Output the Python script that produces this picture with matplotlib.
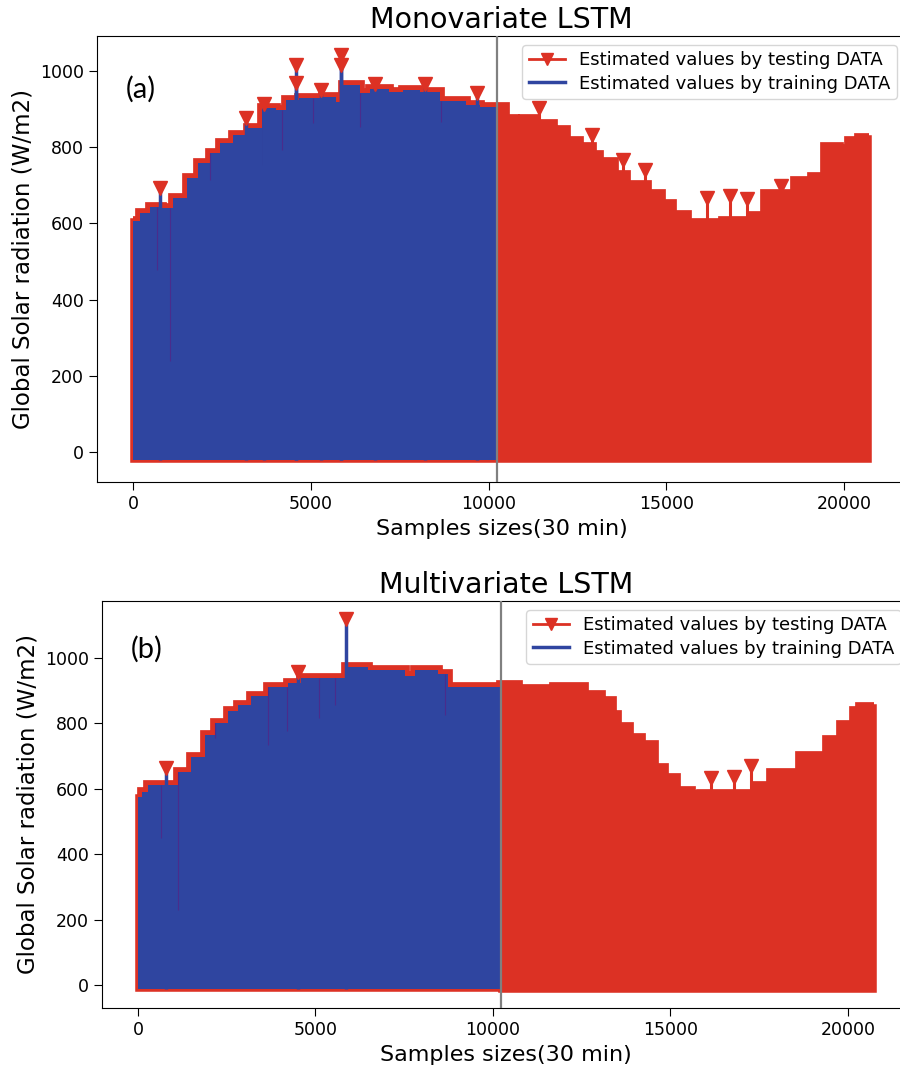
import numpy as np
import matplotlib
matplotlib.use("Agg")
import matplotlib.pyplot as plt
from matplotlib.lines import Line2D

# colours
RED = '#DC3124'
BLUE = '#2F45A0'
DIP = '#4A2C8C'

# ---- (a) Monovariate LSTM : daily peak envelope (segment start, value) ----
split_a = 10240
train_x_a = [0, 197, 478, 807, 1135, 1510, 1838, 2166, 2447, 2823, 3220, 3635, 4010,
             4290, 4670, 5330, 5720, 5910, 6380, 6660, 7200, 7600, 8070, 8630, 9380, 9750]
train_y_a = [605, 627, 644, 640, 666, 719, 758, 784, 810, 832, 850, 902, 898,
             924, 929, 933, 918, 963, 942, 952, 945, 950, 945, 920, 912, 906]
test_x_a = [10240, 10460, 10740, 10980, 11300, 11800, 12170, 12550, 12920, 13110, 13530,
            13880, 14460, 14840, 15170, 15590, 16600, 17420, 17790, 18630, 19100, 19470,
            19850, 20130, 20410]
test_y_a = [905, 873, 860, 873, 860, 846, 816, 800, 780, 760, 728,
            702, 676, 650, 623, 602, 606, 619, 676, 710, 723, 800,
            795, 816, 825]
end_a = 20700
floor_train_a = -22
floor_test_a = -22

spike_train_x_a = [760, 3180, 3690, 4576, 4576, 5300, 5850, 5850, 6800, 8210, 9680]
spike_train_y_a = [692, 877, 914, 1016, 968, 950, 1042, 1016, 965, 965, 941]
spike_test_x_a = [11430, 12900, 13775, 14400, 16140, 16790, 17260, 18220]
spike_test_y_a = [903, 832, 766, 740, 667, 672, 664, 698]
dip_x_a = [666, 1041, 2166, 3666, 4180, 5070, 6385, 8664]
dip_y_a = [478, 240, 714, 752, 792, 863, 854, 867]
drop_x_a, drop_y_a = 5850, 591

# ---- (b) Multivariate LSTM ----
split_b = 10225
train_x_b = [0, 104, 290, 1130, 1500, 1880, 2160, 2540, 2820, 3190, 3660, 4230,
             4600, 5870, 6480, 7520, 7800, 8460, 8740]
train_y_b = [576, 591, 612, 652, 698, 765, 800, 836, 856, 882, 912, 923,
             938, 973, 963, 945, 963, 950, 912]
test_x_b = [10225, 10700, 11730, 12570, 13040, 13360, 13500, 13830, 14160, 14530,
            14820, 15150, 15570, 15850, 17440, 17820, 18660, 19410, 19790, 20160, 20350]
test_y_b = [916, 905, 910, 887, 867, 826, 790, 755, 734, 663,
            633, 593, 581, 585, 607, 648, 699, 750, 795, 836, 851]
end_b = 20730
floor_train_b = -12
floor_test_b = -16

spike_train_x_b = [789, 4507, 5850]
spike_train_y_b = [664, 958, 1119]
spike_test_x_b = [16130, 16780, 17270]
spike_test_y_b = [632, 636, 668]
dip_x_b = [650, 1130, 2169, 3671, 4188, 5108, 5549, 8648]
dip_y_b = [450, 230, 755, 734, 775, 816, 857, 826]
drop_x_b, drop_y_b = 5850, 556


def step_arrays(xs, ys, x_end):
    x = np.append(xs, x_end)
    y = np.append(ys, ys[-1])
    return x, y


def env_at(xs, ys, pts):
    idx = np.searchsorted(xs, pts, side='right') - 1
    return np.asarray(ys)[idx]


def panel(ax, tr_x, tr_y, te_x, te_y, split, end, fl_tr, fl_te,
          sp_tr_x, sp_tr_y, sp_te_x, sp_te_y, dip_x, dip_y, drop, title, tag):
    all_x, all_y = step_arrays(tr_x + te_x, tr_y + te_y, end)
    floor = np.where(all_x < split, fl_tr, fl_te)
    # testing estimate over the whole record (red, marker border)
    ax.fill_between(all_x, floor, all_y, step='post', color=RED,
                    edgecolor=RED, linewidth=4, joinstyle='miter', zorder=1)
    ax.step(all_x, all_y, where='post', color=RED, lw=7,
            solid_joinstyle='miter', solid_capstyle='butt', zorder=1)
    ax.vlines(sp_te_x, fl_te, sp_te_y, color=RED, lw=2.2, zorder=2)
    # training estimate (blue)
    bx, by = step_arrays(tr_x, tr_y, split)
    ax.fill_between(bx, fl_tr, by, step='post', color=BLUE, linewidth=0, zorder=3)
    ax.vlines(dip_x, dip_y, env_at(tr_x, tr_y, dip_x), color=DIP, lw=0.8, zorder=3)
    ax.vlines(drop[0], drop[1], env_at(tr_x, tr_y, [drop[0]])[0], color=RED,
              lw=1.8, zorder=3)
    ax.vlines(sp_tr_x, fl_tr, sp_tr_y, color=BLUE, lw=2.5, zorder=4)
    ax.plot(sp_tr_x + sp_te_x, sp_tr_y + sp_te_y, 'v', color=RED, ms=10,
            ls='none', zorder=5)
    ax.axvline(split, color='#808080', lw=1.6, zorder=6)

    ax.set_title(title, fontsize=20.5)
    ax.set_xlabel('Samples sizes(30 min)', fontsize=16)
    ax.set_ylabel('Global Solar radiation (W/m2)', fontsize=16.5)
    ax.tick_params(labelsize=12.5, length=5.5, pad=4)
    ax.set_xticks([0, 5000, 10000, 15000, 20000])
    ax.set_yticks([0, 200, 400, 600, 800, 1000])
    ax.text(0.036, 0.88, tag, transform=ax.transAxes, fontsize=21,
            family='Lato', va='center', ha='left', zorder=7)
    handles = [Line2D([], [], color=RED, marker='v', ms=8, lw=2),
               Line2D([], [], color=BLUE, lw=2.5)]
    ax.legend(handles, ['Estimated values by testing DATA',
                        'Estimated values by training DATA'],
              loc='upper right', fontsize=13, labelspacing=0.3, borderpad=0.35)


fig = plt.figure(figsize=(9, 10.74), dpi=100)
ax1 = fig.add_axes([0.1078, 0.5512, 0.8989, 0.4153])
ax2 = fig.add_axes([0.1133, 0.0615, 0.8978, 0.3790])

panel(ax1, train_x_a, train_y_a, test_x_a, test_y_a, split_a, end_a,
      floor_train_a, floor_test_a, spike_train_x_a, spike_train_y_a,
      spike_test_x_a, spike_test_y_a, dip_x_a, dip_y_a, (drop_x_a, drop_y_a),
      'Monovariate LSTM', '(a)')
ax1.set_xlim(-1013, 21744)
ax1.set_ylim(-79, 1092)

panel(ax2, train_x_b, train_y_b, test_x_b, test_y_b, split_b, end_b,
      floor_train_b, floor_test_b, spike_train_x_b, spike_train_y_b,
      spike_test_x_b, spike_test_y_b, dip_x_b, dip_y_b, (drop_x_b, drop_y_b),
      'Multivariate LSTM', '(b)')
ax2.set_xlim(-1014, 21746)
ax2.set_ylim(-70, 1174)

fig.savefig('out.png', dpi=100)
